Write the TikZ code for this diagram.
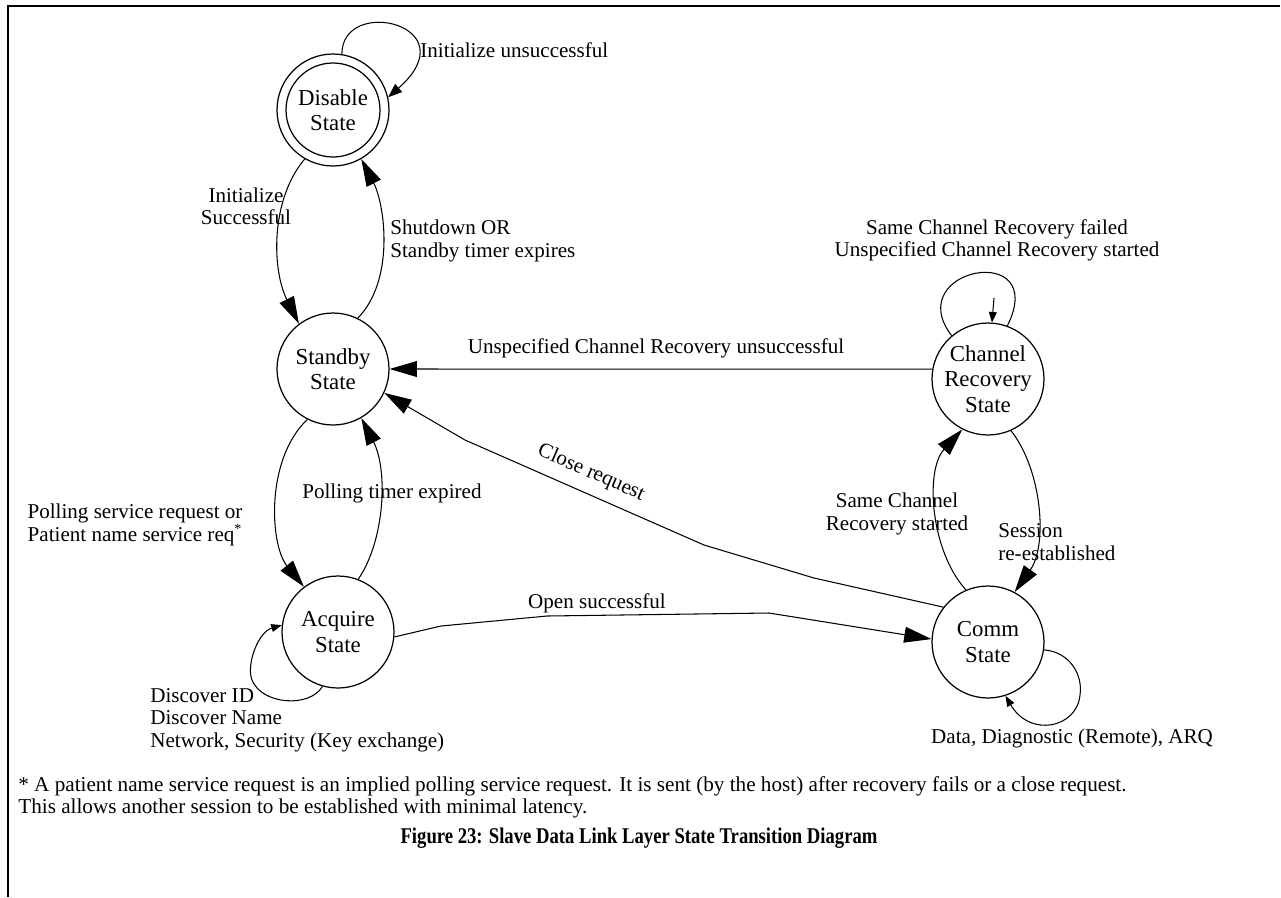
\documentclass[tikz,border=0pt]{standalone}
\usepackage{fontspec}
\setmainfont{Liberation Serif}
\newfontfamily\capfont[FakeStretch=0.83]{Liberation Serif}
\usetikzlibrary{arrows.meta}
\begin{document}
\begin{tikzpicture}[x=0.02cm,y=-0.02cm,
  state/.style={circle,draw,line width=0.7pt,minimum size=2.24cm,inner sep=0pt,align=center,font=\fontsize{13}{14.5}\selectfont},
  lbl/.style={inner sep=0pt,font=\fontsize{12}{12.7}\selectfont},
  wire/.style={line width=0.6pt},
  tr/.style={wire,-{Triangle[length=15.5pt,width=9pt]}},
  md/.style={wire,-{Triangle[length=8pt,width=6pt]}},
  sm/.style={wire,-{Triangle[length=6pt,width=4.5pt]}}]
\useasboundingbox (0,0) rectangle (1281,897);
% frame
\draw[line width=1.4pt] (1280,6) -- (8,6) -- (8,897);

% states
\node[state] (dis) at (333,110) {Disable\\State};
\draw[line width=0.7pt] (dis.center) circle[radius=0.94cm];
\node[state] (sb) at (333,369) {Standby\\State};
\node[state] (acq) at (338,632) {Acquire\\State};
\node[state] (ch) at (988,379) {Channel\\Recovery\\State};
\node[state] (comm) at (988,642) {Comm\\State};

% Disable self loop
\draw[md] (dis.81) .. controls (342,-5) and (470,25) .. (dis.13);
\node[lbl,anchor=west] (l1) at (420,50) {Initialize unsuccessful};

% Disable -> Standby
\draw[tr] (dis.240) .. controls (270,200) and (272,270) .. (sb.127);
\node[lbl,align=center] (l2) at (246,206) {Initialize\\Successful};

% Standby -> Disable
\draw[tr] (sb.64) .. controls (395,280) and (385,205) .. (dis.-60);
\node[lbl,anchor=west,align=left] (l3) at (390,241) {Shutdown OR\\Standby timer expires};

% Channel -> Standby
\draw[tr] (ch.170) -- (sb.east);
\node[lbl] (l4) at (656,348) {Unspecified Channel Recovery unsuccessful};

% Channel self loop
\draw[wire] (ch.130) .. controls (900,268) and (1050,240) .. (ch.70);
\coordinate (chq) at (994,298);
\draw[sm] (chq) -- (ch.86);
\node[lbl,align=center] (l5) at (997,240) {Same Channel Recovery failed\\Unspecified Channel Recovery started};

% Acquire -> Standby
\draw[tr] (acq.69) .. controls (385,540) and (388,470) .. (sb.-60);
\node[lbl,anchor=west] (l6) at (302,493) {Polling timer expired};

% Standby -> Acquire
\draw[tr] (sb.243) .. controls (265,460) and (270,545) .. (acq.127);
\node[lbl,align=center] (l7) at (135,525) {Polling service request or\\Patient name service req\textsuperscript{*}};

% Comm -> Standby (Close request)
\draw[tr] (comm.142) -- (814,578) -- (704,545) -- (465,440) -- (sb.-25);
\node[lbl,rotate=-23.5] (l8) at (591,473) {Close request};

% Acquire -> Comm
\draw[tr] (acq.-5) -- (441,626) -- (547,616) -- (769,613) -- (comm.177);
\node[lbl] (l9) at (597,603) {Open successful};

% Comm -> Channel
\draw[tr] (comm.113) .. controls (930,550) and (925,470) .. (ch.243);
\node[lbl,align=center] (l10) at (897,514) {Same Channel\\Recovery started};

% Channel -> Comm
\draw[tr] (ch.-66) .. controls (1042,470) and (1048,545) .. (comm.62);
\node[lbl,anchor=west,align=left] (l11) at (998,542) {Session\\re-established};

% Acquire self loop
\draw[sm] (acq.254) .. controls (310,708) and (262,705) .. (252,680) .. controls (246,665) and (258,632) .. (acq.173);
\node[lbl,anchor=west,align=left] (l12) at (150,720) {Discover ID\\Discover Name\\Network, Security (Key exchange)};

% Comm self loop
\draw[sm] (comm.-8) .. controls (1070,652) and (1083,675) .. (1080,695) .. controls (1077,728) and (1030,738) .. (comm.-72);
\node[lbl] (l13) at (1072,738) {Data, Diagnostic (Remote), ARQ};

% footnote and caption
\node[inner sep=0pt,anchor=west,align=left,font=\fontsize{12.05}{12.5}\selectfont] (fn) at (18,797)
  {* A patient name service request is an implied polling service request. It is sent (by the host) after recovery fails or a close request.\\This allows another session to be established with minimal latency.};
\node[inner sep=0pt,font=\capfont\fontsize{12.8}{14}\selectfont\bfseries] (cap) at (639,838) {Figure 23: Slave Data Link Layer State Transition Diagram};
\end{tikzpicture}
\end{document}
